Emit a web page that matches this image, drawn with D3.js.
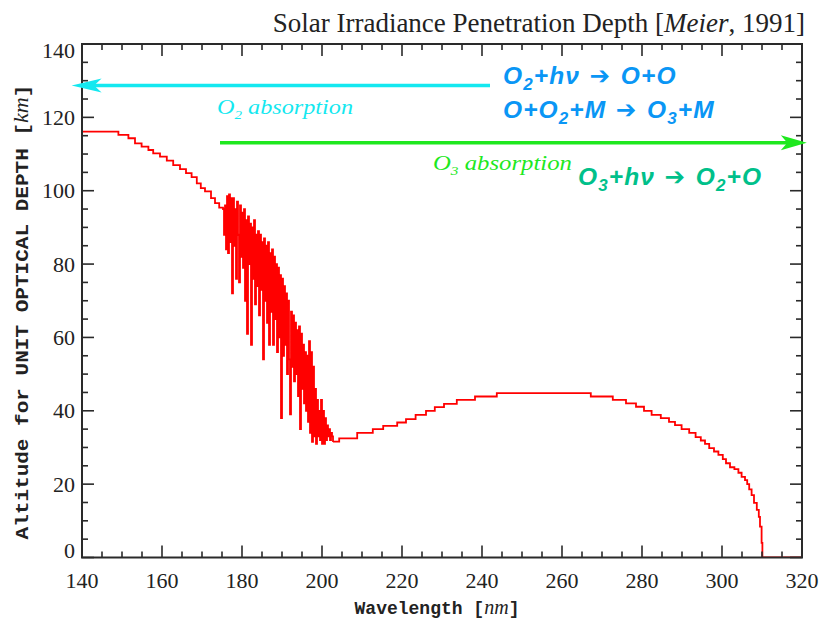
<!DOCTYPE html>
<html>
<head>
<meta charset="utf-8">
<script src="https://cdn.jsdelivr.net/npm/d3@7"></script>
<style>
  html, body { margin: 0; padding: 0; background: #fff; }
  svg { display: block; }
</style>
</head>
<body>
<svg id="chart" width="819" height="628"></svg>
<script>
// Altitude of unit optical depth vs. wavelength (Meier, 1991)

// Schumann–Runge continuum: stepped bins [bin start (nm), altitude (km)]
const continuumSteps = [
  [140, 116.1], [149.1, 115.2], [151.6, 114.3], [153.25, 112.9], [154.9, 112.0],
  [156.6, 111.1], [157.8, 110.2], [159.5, 109.3], [161.2, 108.2], [162.8, 107.0],
  [164.5, 105.9], [166.0, 104.8], [167.4, 103.7], [168.7, 102.0], [169.7, 100.7],
  [170.75, 99.8], [172.25, 98.0], [173.25, 96.6], [174.3, 95.4]
];

// Schumann–Runge bands: fine-resolution altitudes on a 0.25 nm grid
const bandStart = 175.25;
const bandStep = 0.25;
const bandAltitude = [
  95, 88, 96, 84, 98.5, 83, 99, 86, 98, 72, 98, 85, 95, 76, 97, 88,
  75, 96, 82, 94, 79, 95, 70, 92, 61, 93, 80, 91, 58, 90, 76, 92,
  69, 88, 74, 89, 66, 88, 73, 86, 54, 87, 70, 85, 64, 86, 58, 83,
  67, 84, 58, 82, 65, 80, 56, 79, 60, 77, 38, 76, 55, 74, 58, 72,
  50, 70, 54, 39, 67, 52, 66, 48, 64, 50, 62, 44, 63, 35, 61, 46,
  58, 42, 56, 40, 55, 37, 59, 34, 56, 31.5, 52, 33, 46, 31, 43, 33,
  40, 32, 43, 31, 40, 31, 38, 32, 36, 33, 35, 32, 34, 33, 31.5
];

// Herzberg continuum and Hartley band: stepped bins [bin start (nm), altitude (km)]
const hartleySteps = [
  [202.75, 31.6], [204.3, 32.5], [208.8, 34.0], [212.7, 35.0], [215.3, 35.9],
  [218.8, 36.8], [221.0, 37.7], [223.4, 38.9], [226.0, 40.0], [228.2, 41.0],
  [230.5, 41.9], [233.7, 43.0], [238.25, 43.9], [243.7, 44.8], [267.2, 43.9],
  [272.7, 43.0], [276.0, 42.0], [278.5, 41.1], [280.5, 40.0], [282.4, 38.9],
  [284.7, 38.0], [286.75, 37.0], [288.25, 36.1], [289.9, 35.0], [291.8, 34.0],
  [293.4, 32.8], [294.7, 31.9], [295.75, 31.0], [296.8, 29.8], [298.0, 28.9],
  [299.1, 28.0], [300.2, 26.8], [301.0, 25.7], [302.0, 24.6], [303.1, 24.1],
  [304.1, 23.1], [304.9, 22.0], [305.75, 21.1], [306.3, 20.0], [306.8, 18.6],
  [307.4, 17.0], [308.0, 14.9], [308.7, 13.0], [309.2, 11.1], [309.5, 8.4],
  [309.9, 4.0], [310.1, 0], [320, 0]
];

// Axis ticks
const xTicksMajor = [140, 160, 180, 200, 220, 240, 260, 280, 300, 320];
const yTicksMajor = [0, 20, 40, 60, 80, 100, 120, 140];

// Absorption regions: arrows at a given altitude, from -> to (nm)
const o2Arrow = { from: 242, to: 137.4, altitude: 128.7 };
const o3Arrow = { from: 174.5, to: 321.2, altitude: 113.1 };

const svg = d3.select("#chart");
const plot = { left: 82, right: 802, top: 44, bottom: 557.5 };

const x = d3.scaleLinear().domain([140, 320]).range([plot.left, plot.right]);
const y = d3.scaleLinear().domain([0, 140]).range([plot.bottom, plot.top]);

// Assemble the full spectrum as step points
const bandPoints = bandAltitude.map((h, i) => [bandStart + i * bandStep, h]);
const spectrum = continuumSteps.concat(bandPoints, hartleySteps);

svg.append("defs").append("clipPath").attr("id", "plot-clip")
  .append("rect")
  .attr("x", plot.left).attr("y", plot.top)
  .attr("width", plot.right - plot.left).attr("height", plot.bottom - plot.top);

const line = d3.line()
  .x(d => x(d[0]))
  .y(d => y(d[1]))
  .curve(d3.curveStepAfter);

svg.append("path")
  .datum(spectrum)
  .attr("clip-path", "url(#plot-clip)")
  .attr("fill", "none")
  .attr("stroke", "#ff0000")
  .attr("stroke-width", 1.8)
  .attr("stroke-linejoin", "miter")
  .attr("d", line);

// Axes: ticks on all four sides, pointing inward
const axisColor = "#2a2a2a";
const xMinor = d3.range(140, 321, 5);
const yMinor = d3.range(0, 141, 5);
const majorLen = 12, minorLen = 6;

const ax = svg.append("g").attr("class", "axes");
const tickG = ax.append("g");
xMinor.forEach(v => {
  const len = v % 20 === 0 ? majorLen : minorLen;
  tickG.append("line").attr("x1", x(v)).attr("x2", x(v))
    .attr("y1", plot.bottom).attr("y2", plot.bottom - len);
  tickG.append("line").attr("x1", x(v)).attr("x2", x(v))
    .attr("y1", plot.top).attr("y2", plot.top + len);
});
yMinor.forEach(v => {
  const len = v % 20 === 0 ? majorLen : minorLen;
  tickG.append("line").attr("y1", y(v)).attr("y2", y(v))
    .attr("x1", plot.left).attr("x2", plot.left + len);
  tickG.append("line").attr("y1", y(v)).attr("y2", y(v))
    .attr("x1", plot.right).attr("x2", plot.right - len);
});
tickG.attr("stroke", axisColor).attr("stroke-width", 1.6);

ax.append("rect")
  .attr("x", plot.left).attr("y", plot.top)
  .attr("width", plot.right - plot.left).attr("height", plot.bottom - plot.top)
  .attr("fill", "none").attr("stroke", axisColor).attr("stroke-width", 2);

// Tick labels
const tickFont = "'Liberation Serif', 'DejaVu Serif', serif";
ax.append("g").selectAll("text").data(xTicksMajor).join("text")
  .attr("x", d => x(d)).attr("y", 588)
  .attr("text-anchor", "middle")
  .attr("font-family", tickFont).attr("font-size", 22)
  .attr("fill", "#222")
  .text(d => d);

ax.append("g").selectAll("text").data(yTicksMajor).join("text")
  .attr("x", 75)
  .attr("y", d => y(d) + (d === 140 ? 6 : d === 0 ? -7 : 0))
  .attr("dy", "0.35em")
  .attr("text-anchor", "end")
  .attr("font-family", tickFont).attr("font-size", 22)
  .attr("fill", "#222")
  .text(d => d);

// Axis titles
const monoFont = "'Liberation Mono', 'DejaVu Sans Mono', monospace";
const xt = svg.append("text")
  .attr("x", 437).attr("y", 614)
  .attr("text-anchor", "middle")
  .attr("font-family", monoFont).attr("font-size", 18).attr("font-weight", "bold")
  .attr("fill", "#222");
xt.append("tspan").text("Wavelength  [");
xt.append("tspan").attr("font-style", "italic").attr("font-family", "'Liberation Serif', serif")
  .attr("font-weight", "normal").attr("font-size", 20).text("nm");
xt.append("tspan").text("]");

const yt = svg.append("text")
  .attr("transform", "translate(28,312) rotate(-90)")
  .attr("text-anchor", "middle")
  .attr("font-family", monoFont).attr("font-size", 19).attr("font-weight", "bold")
  .attr("fill", "#222")
  .attr("textLength", 455).attr("lengthAdjust", "spacingAndGlyphs");
yt.append("tspan").text("Altitude for UNIT OPTICAL DEPTH  [");
yt.append("tspan").attr("font-style", "italic").attr("font-family", "'Liberation Serif', serif")
  .attr("font-weight", "normal").attr("font-size", 20).text("km");
yt.append("tspan").text("]");

// Title
const title = svg.append("text")
  .attr("x", 805).attr("y", 32)
  .attr("text-anchor", "end")
  .attr("font-family", "'Liberation Serif', 'DejaVu Serif', serif")
  .attr("font-size", 27)
  .attr("fill", "#222");
title.append("tspan").text("Solar Irradiance Penetration Depth [");
title.append("tspan").attr("font-style", "italic").text("Meier");
title.append("tspan").text(", 1991]");

// Absorption arrows
function arrow(spec, color, headLen, headHalf) {
  const g = svg.append("g");
  const x0 = x(spec.from), x1 = x(spec.to), yy = y(spec.altitude);
  const dir = Math.sign(x1 - x0);
  g.append("line")
    .attr("x1", x0).attr("x2", x1 - dir * headLen * 0.6)
    .attr("y1", yy).attr("y2", yy)
    .attr("stroke", color).attr("stroke-width", 3.5);
  g.append("path")
    .attr("d", `M${x1},${yy} L${x1 - dir * headLen},${yy - headHalf} L${x1 - dir * headLen * 0.75},${yy} L${x1 - dir * headLen},${yy + headHalf} Z`)
    .attr("fill", color);
}
arrow(o2Arrow, "#14e8f0", 30, 7);
arrow(o3Arrow, "#1ee81e", 26, 7.5);

// Absorption region labels
const labelFont = "'Liberation Serif', 'DejaVu Serif', serif";
function absorptionLabel(xPos, yPos, sub, color, width) {
  const t = svg.append("text")
    .attr("x", xPos).attr("y", yPos)
    .attr("font-family", labelFont).attr("font-style", "italic").attr("font-size", 21)
    .attr("fill", color)
    .attr("textLength", width).attr("lengthAdjust", "spacingAndGlyphs");
  t.append("tspan").text("O");
  t.append("tspan").attr("font-size", 13).attr("dy", 5).text(sub);
  t.append("tspan").attr("dy", -5).text(" absorption");
}
absorptionLabel(217, 114, "2", "#14e8f0", 136);
absorptionLabel(433, 170, "3", "#1ee81e", 139);

// Photochemical reactions
function reaction(xPos, yPos, parts, color) {
  const t = svg.append("text")
    .attr("x", xPos).attr("y", yPos)
    .attr("font-family", "'Liberation Sans', Arial, sans-serif")
    .attr("font-weight", "bold").attr("font-style", "italic")
    .attr("font-size", 24.5)
    .attr("letter-spacing", 1.1)
    .attr("fill", color);
  let shifted = false;
  parts.forEach(p => {
    const sub = p.startsWith("_");
    const arrowPart = p === "ARROW";
    const s = t.append("tspan").text(sub ? p.slice(1) : arrowPart ? " \u2794 " : p);
    if (arrowPart) s.attr("font-family", "'DejaVu Sans', sans-serif").attr("font-style", "normal");
    if (sub) { s.attr("font-size", 17).attr("dy", 6); shifted = true; }
    else if (shifted) { s.attr("dy", -6); shifted = false; }
  });
}
reaction(503, 84, ["O", "_2", "+h\u03bd", "ARROW", "O+O"], "#0a96f5");
reaction(503, 118, ["O+O", "_2", "+M", "ARROW", "O", "_3", "+M"], "#0a96f5");
reaction(578, 185, ["O", "_3", "+h\u03bd", "ARROW", "O", "_2", "+O"], "#00c08a");
</script>
</body>
</html>
